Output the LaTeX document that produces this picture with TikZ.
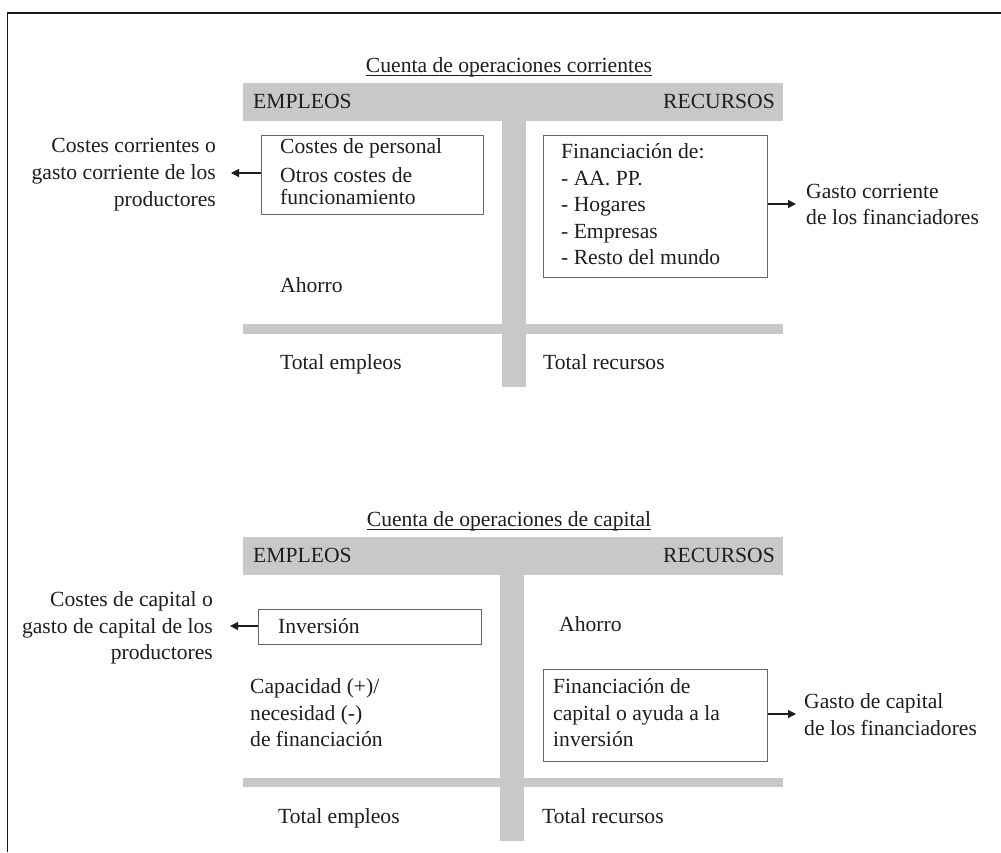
\documentclass[tikz,border=0pt]{standalone}
\usepackage{fontspec}
\setmainfont{Liberation Serif}
\usetikzlibrary{arrows.meta}
\definecolor{bargray}{RGB}{200,200,200}
\definecolor{ink}{RGB}{30,30,30}
\tikzset{
  x=1pt, y=-1pt,
  txt/.style={inner sep=0pt, text=ink, font=\fontsize{21.6}{26}\selectfont},
  lt/.style={txt, anchor=base west},
  rt/.style={txt, anchor=base east},
  ct/.style={txt, anchor=base},
  uline/.style={draw=ink, line width=0.9pt},
  bar/.style={fill=bargray, draw=none},
  boxr/.style={draw=black!60, line width=0.9pt, fill=none, inner sep=0pt, anchor=north west},
  arr/.style={draw=ink, line width=1.2pt, -{Triangle[length=8pt,width=8pt]}},
  frame/.style={draw=black!90, line width=1.6pt}
}
\begin{document}
\begin{tikzpicture}
\useasboundingbox (0,0) rectangle (1001,852);
\fill[white] (0,0) rectangle (1001,852);
\draw[frame] (7.5,852) -- (7.5,13) -- (1001,13);

% ===== Section 1 =====
\node[ct] (t1) at (509,72) {Cuenta de operaciones corrientes};
\draw[uline] ([yshift=-3.5pt]t1.base west) -- ([yshift=-3.5pt]t1.base east);
\fill[bar] (243,83) rectangle (783,121);
\fill[bar] (502,121) rectangle (526,387);
\fill[bar] (243,324) rectangle (783,334);
\node[lt] (emp1) at (253,108) {EMPLEOS};
\node[rt] (rec1) at (775,108) {RECURSOS};

\node[boxr, minimum width=222pt, minimum height=79pt] (b1) at (261,135) {};
\node[lt] (b1a) at (280,153) {Costes de personal};
\node[lt] (b1b) at (280,182) {Otros costes de};
\node[lt] (b1c) at (280,204) {funcionamiento};

\node[rt] (l1a) at (216,152) {Costes corrientes o};
\node[rt] (l1b) at (216,179) {gasto corriente de los};
\node[rt] (l1c) at (216,206) {productores};
\coordinate (e1) at (231,173);
\draw[arr] (b1.west |- e1) -- (e1);

\node[lt] (ah1) at (280,292) {Ahorro};
\node[lt] (te1) at (280,369) {Total empleos};
\node[lt] (tr1) at (543,369) {Total recursos};

\node[boxr, minimum width=224pt, minimum height=142pt] (b2) at (543,135) {};
\node[lt] (b2a) at (561,158) {Financiación de:};
\node[lt] (b2b) at (561,185) {- AA. PP.};
\node[lt] (b2c) at (561,211) {- Hogares};
\node[lt] (b2d) at (561,238) {- Empresas};
\node[lt] (b2e) at (561,264) {- Resto del mundo};

\node[lt] (r1a) at (806,198) {Gasto corriente};
\node[lt] (r1b) at (806,224) {de los financiadores};
\coordinate (e2) at (796,204);
\draw[arr] (b2.east |- e2) -- (e2);

% ===== Section 2 =====
\node[ct] (t2) at (509,526) {Cuenta de operaciones de capital};
\draw[uline] ([yshift=-3.5pt]t2.base west) -- ([yshift=-3.5pt]t2.base east);
\fill[bar] (243,537) rectangle (783,575);
\fill[bar] (500,575) rectangle (524,841);
\fill[bar] (243,778) rectangle (783,787);
\node[lt] (emp2) at (253,562) {EMPLEOS};
\node[rt] (rec2) at (775,562) {RECURSOS};

\node[boxr, minimum width=223pt, minimum height=35pt] (b3) at (258,609) {};
\node[lt] (b3a) at (278,633) {Inversión};

\node[rt] (l2a) at (213,606) {Costes de capital o};
\node[rt] (l2b) at (213,633) {gasto de capital de los};
\node[rt] (l2c) at (213,659) {productores};
\coordinate (e3) at (230,626);
\draw[arr] (b3.west |- e3) -- (e3);

\node[lt] (ca1) at (250,693) {Capacidad (+)/};
\node[lt] (ca2) at (250,720) {necesidad (-)};
\node[lt] (ca3) at (250,746) {de financiación};

\node[lt] (ah2) at (559,631) {Ahorro};

\node[boxr, minimum width=224pt, minimum height=92pt] (b4) at (543,669) {};
\node[lt] (b4a) at (553,693) {Financiación de};
\node[lt] (b4b) at (553,720) {capital o ayuda a la};
\node[lt] (b4c) at (553,746) {inversión};

\node[lt] (r2a) at (804,708) {Gasto de capital};
\node[lt] (r2b) at (804,735) {de los financiadores};
\coordinate (e4) at (796,714);
\draw[arr] (b4.east |- e4) -- (e4);

\node[lt] (te2) at (278,823) {Total empleos};
\node[lt] (tr2) at (542,823) {Total recursos};
\end{tikzpicture}
\end{document}
